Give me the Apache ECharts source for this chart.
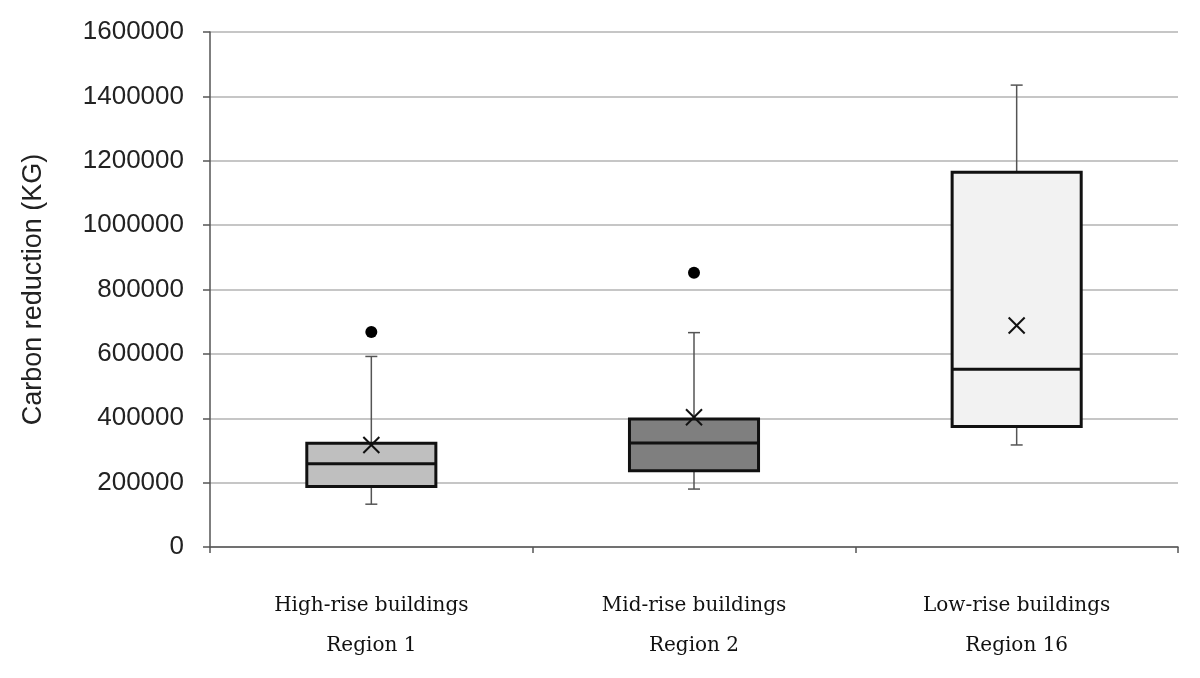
<!DOCTYPE html>
<html>
<head>
<meta charset="utf-8">
<script src="https://cdn.jsdelivr.net/npm/echarts@6/dist/echarts.min.js"></script>
<style>
  html, body { margin: 0; padding: 0; background: #fff; }
  #main { width: 1200px; height: 678px; }
</style>
</head>
<body>
<div id="main"></div>
<script>
// values
var buildingTypes = ['High-rise buildings', 'Mid-rise buildings', 'Low-rise buildings'];
var regions = ['Region 1', 'Region 2', 'Region 16'];
var lowWhisker = [133000, 180000, 317000];
var q1 = [188000, 237000, 374000];
var median = [259000, 323000, 552000];
var q3 = [322000, 398000, 1164000];
var highWhisker = [592000, 666000, 1435000];
var means = [317000, 403000, 688000];
var outliers = [[0, 668000], [1, 852000]];
var yTicks = [0, 200000, 400000, 600000, 800000, 1000000, 1200000, 1400000, 1600000];

var boxFill = ['#bfbfbf', '#7f7f7f', '#f2f2f2'];

window.onload = function () {
    var categories = buildingTypes.map(function (b, i) { return b + '\n' + regions[i]; });

    var boxData = [];
    for (var i = 0; i < categories.length; i++) {
        boxData.push([i, lowWhisker[i], q1[i], median[i], q3[i], highWhisker[i], means[i]]);
    }

    function renderBox(params, api) {
        var idx = api.value(0);
        var band = api.size([1, 0])[0];
        var half = band * 0.2;
        var capHalf = 6;
        var lo = api.coord([idx, api.value(1)]);
        var b1 = api.coord([idx, api.value(2)]);
        var md = api.coord([idx, api.value(3)]);
        var b3 = api.coord([idx, api.value(4)]);
        var hi = api.coord([idx, api.value(5)]);
        var mn = api.coord([idx, api.value(6)]);
        var x = lo[0];
        var whisk = { stroke: '#555555', lineWidth: 1.5 };
        var xs = 8;
        return {
            type: 'group',
            children: [
                { type: 'line', shape: { x1: x, y1: lo[1], x2: x, y2: b1[1] }, style: whisk },
                { type: 'line', shape: { x1: x, y1: hi[1], x2: x, y2: b3[1] }, style: whisk },
                { type: 'line', shape: { x1: x - capHalf, y1: lo[1], x2: x + capHalf, y2: lo[1] }, style: whisk },
                { type: 'line', shape: { x1: x - capHalf, y1: hi[1], x2: x + capHalf, y2: hi[1] }, style: whisk },
                {
                    type: 'rect',
                    shape: { x: x - half, y: b3[1], width: half * 2, height: b1[1] - b3[1] },
                    style: { fill: boxFill[idx], stroke: '#111111', lineWidth: 3 }
                },
                { type: 'line', shape: { x1: x - half, y1: md[1], x2: x + half, y2: md[1] }, style: { stroke: '#111111', lineWidth: 3 } },
                { type: 'line', shape: { x1: mn[0] - xs, y1: mn[1] - xs, x2: mn[0] + xs, y2: mn[1] + xs }, style: { stroke: '#111111', lineWidth: 2 } },
                { type: 'line', shape: { x1: mn[0] - xs, y1: mn[1] + xs, x2: mn[0] + xs, y2: mn[1] - xs }, style: { stroke: '#111111', lineWidth: 2 } }
            ]
        };
    }

    var option = {
        backgroundColor: '#ffffff',
        animation: false,
        grid: { left: 210, right: 22, top: 32, bottom: 131 },
        xAxis: {
            type: 'category',
            data: categories,
            axisLine: { lineStyle: { color: '#555555', width: 1.5 } },
            axisTick: {
                show: true, length: 6, lineStyle: { color: '#555555', width: 1.5 },
                interval: 0
            },
            axisLabel: {
                margin: 39,
                color: '#111111',
                fontFamily: 'DejaVu Serif',
                fontSize: 20,
                lineHeight: 40
            },
            splitLine: { show: false }
        },
        yAxis: {
            type: 'value',
            min: yTicks[0],
            max: yTicks[yTicks.length - 1],
            interval: yTicks[1] - yTicks[0],
            name: 'Carbon reduction (KG)',
            nameLocation: 'middle',
            nameGap: 163,
            nameTextStyle: { fontFamily: 'Liberation Sans', fontSize: 27, color: '#222222' },
            axisLine: { show: true, lineStyle: { color: '#555555', width: 1.5 } },
            axisTick: { show: true, length: 7, lineStyle: { color: '#555555', width: 1.5 } },
            axisLabel: {
                margin: 26,
                color: '#222222',
                fontFamily: 'Liberation Sans',
                fontSize: 26,
                formatter: function (v) { return String(v); }
            },
            splitLine: { lineStyle: { color: '#b3b3b3', width: 1.5 } }
        },
        series: [
            {
                type: 'custom',
                renderItem: renderBox,
                encode: { x: 0, y: [1, 2, 3, 4, 5, 6] },
                data: boxData,
                z: 3
            },
            {
                type: 'scatter',
                symbol: 'circle',
                symbolSize: 12,
                itemStyle: { color: '#000000', opacity: 1 },
                data: outliers,
                z: 4
            }
        ]
    };

    var myChart = echarts.init(document.getElementById('main'));
    myChart.setOption(option);
};
</script>
</body>
</html>
